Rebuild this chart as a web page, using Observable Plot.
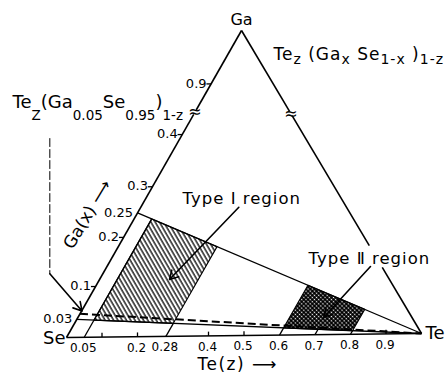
<!DOCTYPE html>
<html><head><meta charset="utf-8">
<script src="https://cdn.jsdelivr.net/npm/d3@7"></script>
<script src="https://cdn.jsdelivr.net/npm/@observablehq/plot@0.6"></script>
<style>body{margin:0;background:#fff}</style>
</head><body><div id="chart"></div>
<script>
// ---------------- data ----------------
const vertexNames = ["Se", "Te", "Ga"];
// broken Ga(x) axis on the Se–Ga edge: value -> fraction of the edge length
const gaAxisValues   = [0, 0.03, 0.05, 0.1, 0.25, 0.4, 0.9, 1];
const gaAxisFraction = [0, 0.059, 0.077, 0.166, 0.406, 0.661, 0.826, 1];
const gaTickLabels = [0.03, 0.1, 0.2, 0.25, 0.3, 0.4, 0.9];
const gaTickMarks  = [0.1, 0.2, 0.3, 0.4, 0.9];
const teTickLabels = [0.05, 0.2, 0.28, 0.4, 0.5, 0.6, 0.7, 0.8, 0.9];
const teTickMarks  = [0.1, 0.2, 0.4, 0.5, 0.9];
const gaLinesSolid = [0.03, 0.25];          // lines of constant Ga fraction x
const gaLinesDashed = [0.05];               // Te_z(Ga0.05Se0.95)1-z
const teLines   = [0.05, 0.28, 0.6, 0.7, 0.8]; // lines of constant Te fraction z
const teLineTop = [0.25, 0.03, 0.03, 0.03, 0.03];
const regionNames = ["Type Ⅰ region", "Type Ⅱ region"];
const regionTe = [[0.05, 0.28], [0.6, 0.8]];
const regionGa = [[0.03, 0.25], [0.03, 0.25]];
const formulaGeneral = "Te_{z} (Ga_{x} Se_{1-x} )_{1-z}";
const formulaLine = "Te_{Z}(Ga_{0.05}Se_{0.95})_{1-z}";
const axisTitles = ["Ga(x) ⟶", "Te(z) ⟶"];

// ---------------- geometry (diagram units) ----------------
const SE = [0, 0], TE = [1, 0.0113], GA = [0.493, 0.865];
const VERT = {Se: SE, Te: TE, Ga: GA};
const gaPos = d3.scaleLinear().domain(gaAxisValues).range(gaAxisFraction);
const lerp = (a, b, s) => [a[0] + s * (b[0] - a[0]), a[1] + s * (b[1] - a[1])];
const proj = (z, x) => lerp(lerp(SE, GA, gaPos(x)), TE, z);
const seg = (a, b, extra = {}) => ({x1: a[0], y1: a[1], x2: b[0], y2: b[1], ...extra});

const edges = [
  ...[[0, 0.727], [0.741, 1]].map(([a, b]) => seg(lerp(SE, GA, a), lerp(SE, GA, b))),
  ...[[0, 0.218], [0.29, 0.719], [0.733, 1]].map(([a, b]) => seg(lerp(TE, GA, a), lerp(TE, GA, b))),
  seg(SE, TE)
];
const breaks = [lerp(SE, GA, 0.734), lerp(TE, GA, 0.726)];
const gaSolid = gaLinesSolid.map(x => seg(proj(0, x), proj(1, x)));
const gaDashed = gaLinesDashed.map(x => seg(proj(0, x), proj(1, x)));
const teSegs = teLines.map((z, i) => seg(proj(z, 0), proj(z, teLineTop[i])));
const gaTicks = gaTickMarks.map(x => { const p = proj(0, x); return seg(p, [p[0] - 0.013, p[1]]); });
const teTicks = teTickMarks.map(z => { const p = proj(z, 0); return seg(p, [p[0], p[1] + 0.012]); });
const regions = regionNames.map((name, i) => {
  const [z0, z1] = regionTe[i], [x0, x1] = regionGa[i];
  return [[z0, x0], [z1, x0], [z1, x1], [z0, x1], [z0, x0]].map(([z, x]) => {
    const p = proj(z, x); return {name, X: p[0], Y: p[1]};
  });
});

// annotation layout (diagram units)
const L = {
  formulaGeneral: [0.5831, 0.7975],
  formulaLine: [-0.1521, 0.6642],
  typeI: [0.3268, 0.3924],
  typeII: [0.6817, 0.2225],
  gaTitle: [0.0592, 0.3465],
  teTitle: [0.369, -0.0760]
};
const pointers = [
  seg([0.4854, 0.3670], [0.2901, 0.1634]),
  seg([0.8563, 0.2000], [0.7248, 0.0572]),
  seg([-0.047, 0.1794], [0.0437, 0.0746])
];
const callout = [[-0.047, 0.5606], [-0.047, 0.1794]];

const RICH = {
  [formulaGeneral]: {subSize: 14, subDy: 4, spacing: 1},
  [formulaLine]: {subSize: 13.5, subDy: 12.5, spacing: 0},
  [regionNames[0]]: {spacing: 1},
  [regionNames[1]]: {spacing: 1},
  [axisTitles[1]]: {spacing: 1.5}
};

const X = d => d[0], Y = d => d[1];
const one = p => [p];

const plot = Plot.plot({
  width: 446, height: 375,
  marginLeft: 66, marginRight: 25, marginTop: 30, marginBottom: 38,
  x: {domain: [0, 1], axis: null},
  y: {domain: [0, 0.865], axis: null},
  style: {fontFamily: "'DejaVu Sans', sans-serif", background: "white", color: "black"},
  marks: [
    Plot.line(regions[0], {x: "X", y: "Y", fill: "url(#hatchI)", stroke: "black", strokeWidth: 1.1}),
    Plot.line(regions[1], {x: "X", y: "Y", fill: "url(#dotsII)", stroke: "black", strokeWidth: 1.1}),
    Plot.link(edges, {x1: "x1", y1: "y1", x2: "x2", y2: "y2", strokeWidth: 1.6}),
    Plot.link(gaSolid, {x1: "x1", y1: "y1", x2: "x2", y2: "y2", strokeWidth: 1.3}),
    Plot.link(gaDashed, {x1: "x1", y1: "y1", x2: "x2", y2: "y2", strokeWidth: 2, strokeDasharray: "8,4"}),
    Plot.link(teSegs, {x1: "x1", y1: "y1", x2: "x2", y2: "y2", strokeWidth: 1.3}),
    Plot.link(gaTicks, {x1: "x1", y1: "y1", x2: "x2", y2: "y2", strokeWidth: 1.3}),
    Plot.link(teTicks, {x1: "x1", y1: "y1", x2: "x2", y2: "y2", strokeWidth: 1.3}),
    Plot.line(callout, {x: X, y: Y, strokeWidth: 1, strokeDasharray: "8,3"}),
    Plot.arrow(pointers, {x1: "x1", y1: "y1", x2: "x2", y2: "y2", strokeWidth: 1.6, headLength: 9}),
    Plot.text(breaks, {x: X, y: Y, text: () => "≈", fontSize: 16}),
    // vertex labels
    Plot.text(["Ga"], {x: d => VERT[d][0], y: d => VERT[d][1], text: d => d, fontSize: 16, dy: -11}),
    Plot.text(["Se"], {x: d => VERT[d][0], y: d => VERT[d][1], text: d => d, fontSize: 18, textAnchor: "end", dx: -1, dy: 1}),
    Plot.text(["Te"], {x: d => VERT[d][0], y: d => VERT[d][1], text: d => d, fontSize: 18, textAnchor: "start", dx: 4}),
    // tick labels
    Plot.text(teTickLabels, {x: z => proj(z, 0)[0], y: z => proj(z, 0)[1], text: z => String(z), fontSize: 12, dy: 11, dx: -1}),
    Plot.text(gaTickLabels, {x: v => proj(0, v)[0], y: v => proj(0, v)[1], text: v => String(v), fontSize: 13, textAnchor: "end", dx: -4.5, dy: -0.5}),
    // titles and annotations
    Plot.text(one(formulaGeneral), {x: () => L.formulaGeneral[0], y: () => L.formulaGeneral[1], text: d => d, fontSize: 17, textAnchor: "start"}),
    Plot.text(one(formulaLine), {x: () => L.formulaLine[0], y: () => L.formulaLine[1], text: d => d, fontSize: 18, textAnchor: "start"}),
    Plot.text(one(regionNames[0]), {x: () => L.typeI[0], y: () => L.typeI[1], text: d => d, fontSize: 16.5, textAnchor: "start"}),
    Plot.text(one(regionNames[1]), {x: () => L.typeII[0], y: () => L.typeII[1], text: d => d, fontSize: 16.5, textAnchor: "start"}),
    Plot.text(one(axisTitles[0]), {x: () => L.gaTitle[0], y: () => L.gaTitle[1], text: d => d, fontSize: 17, rotate: -59}),
    Plot.text(one(axisTitles[1]), {x: () => L.teTitle[0], y: () => L.teTitle[1], text: d => d, fontSize: 17, textAnchor: "start"})
  ]
});

// patterns for the hatched regions
const NS = "http://www.w3.org/2000/svg";
const defs = document.createElementNS(NS, "defs");
defs.innerHTML = `
<pattern id="hatchI" patternUnits="userSpaceOnUse" width="3.7" height="10" patternTransform="rotate(-30)">
  <line x1="1" y1="-2" x2="1" y2="12" stroke="black" stroke-width="1.3"/>
</pattern>
<pattern id="dotsII" patternUnits="userSpaceOnUse" width="3" height="3" patternTransform="rotate(45)">
  <rect width="3" height="3" fill="black"/><circle cx="1.5" cy="1.5" r="0.8" fill="white"/>
</pattern>`;
plot.insertBefore(defs, plot.firstChild);

// rich text: subscripts and letter spacing
plot.querySelectorAll("text").forEach(el => {
  const s = el.textContent;
  const cfg = RICH[s];
  if (!cfg) return;
  if (cfg.spacing) el.setAttribute("letter-spacing", cfg.spacing);
  if (!s.includes("_{")) return;
  const parts = []; const re = /_\{([^}]*)\}/g; let last = 0, m;
  while ((m = re.exec(s))) {
    if (m.index > last) parts.push([s.slice(last, m.index), false]);
    parts.push([m[1], true]); last = re.lastIndex;
  }
  if (last < s.length) parts.push([s.slice(last), false]);
  el.textContent = "";
  let cur = 0;
  for (const [txt, sub] of parts) {
    const ts = document.createElementNS(NS, "tspan");
    const target = sub ? cfg.subDy : 0;
    if (target !== cur) ts.setAttribute("dy", target - cur);
    cur = target;
    if (sub) ts.setAttribute("font-size", cfg.subSize);
    ts.setAttribute("style", "white-space:pre");
    ts.textContent = txt;
    el.appendChild(ts);
  }
});
document.getElementById("chart").appendChild(plot);
</script>
</body></html>
